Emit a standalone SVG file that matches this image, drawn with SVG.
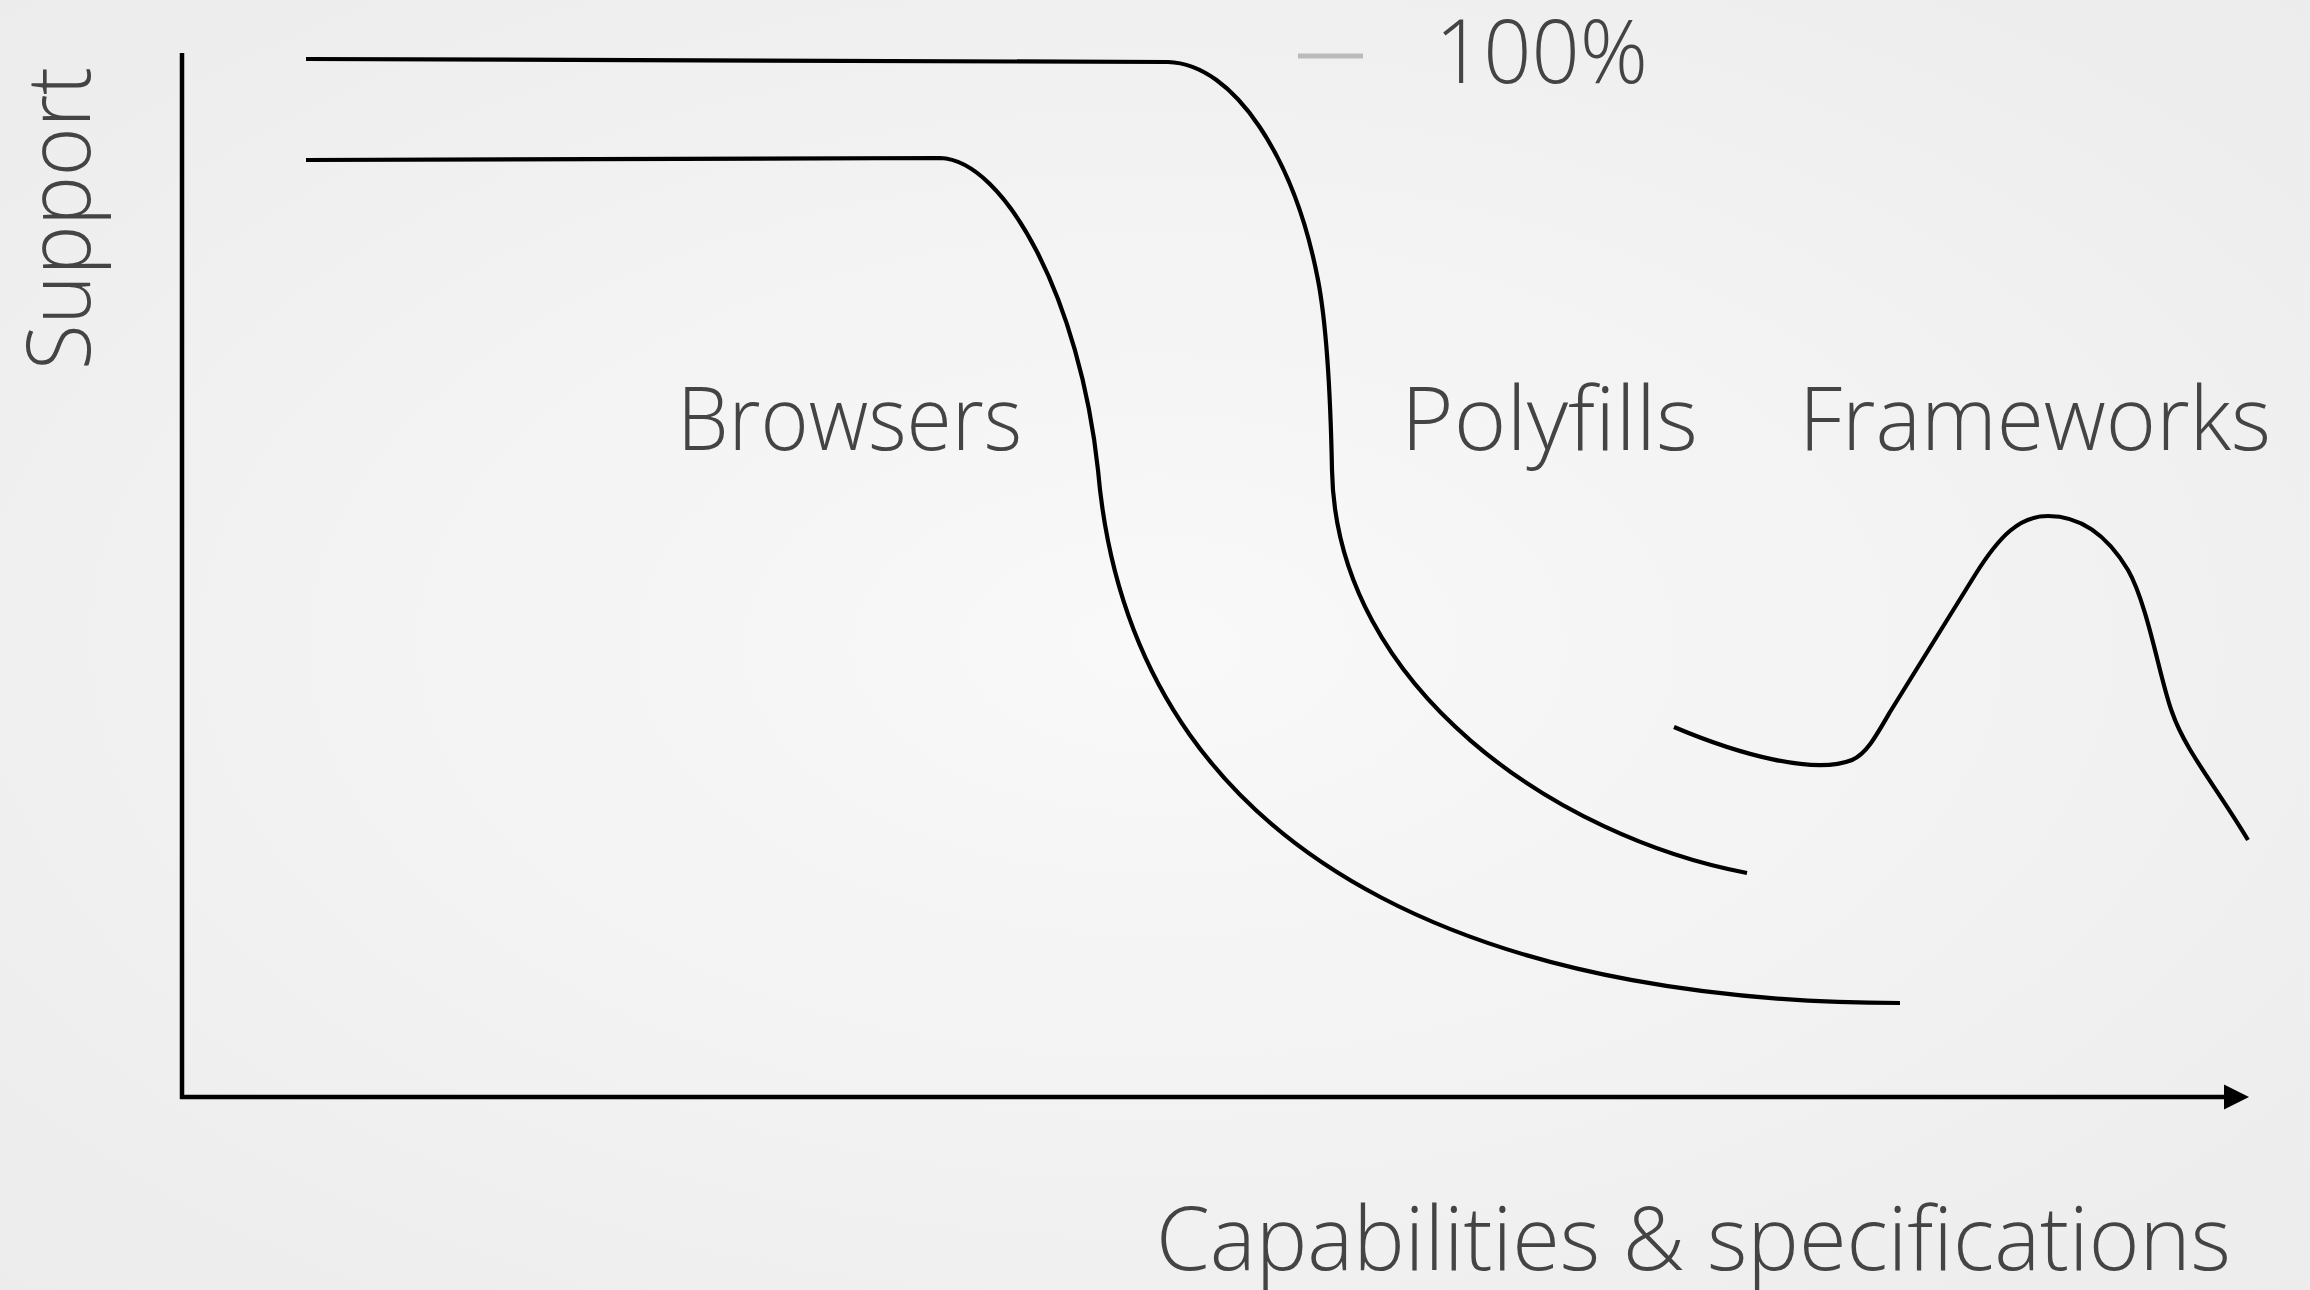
<svg xmlns="http://www.w3.org/2000/svg" width="2310" height="1290" viewBox="0 0 2310 1290">
  <defs>
    <radialGradient id="bg" cx="50%" cy="50%" r="70%">
      <stop offset="0" stop-color="#f9f9f9"/>
      <stop offset="1" stop-color="#ececec"/>
    </radialGradient>
    <marker id="arrow" markerUnits="userSpaceOnUse" markerWidth="26" markerHeight="26" refX="0" refY="13" orient="auto">
      <path d="M0,0.5 L25,13 L0,25.5 Z" fill="#000"/>
    </marker>
  </defs>
  <style>
    .lbl { font-family: "Open Sans", "Liberation Sans", sans-serif; font-weight: 300; fill: #444; font-size: 88px; }
    .curve { fill: none; stroke: #000; stroke-width: 4.2; stroke-linecap: butt; stroke-linejoin: round; }
    .axis { fill: none; stroke: #000; stroke-width: 4.5; }
  </style>
  <rect width="2310" height="1290" fill="url(#bg)"/>

  <g id="axes">
    <line class="axis" x1="182" y1="53" x2="182" y2="1099"/>
    <line class="axis" x1="180" y1="1097" x2="2224" y2="1097" marker-end="url(#arrow)"/>
  </g>

  <g id="axis-labels">
    <text class="lbl" transform="translate(90,370) rotate(-90)" textLength="303" lengthAdjust="spacingAndGlyphs">Support</text>
    <text class="lbl" x="1156" y="1270" textLength="1075" lengthAdjust="spacingAndGlyphs">Capabilities &amp; specifications</text>
  </g>

  <g id="legend-100">
    <line x1="1298" y1="56" x2="1363" y2="56" stroke="#bbb" stroke-width="5"/>
    <text class="lbl" x="1435" y="83" textLength="213" lengthAdjust="spacingAndGlyphs">100%</text>
  </g>

  <g id="curves">
    <path id="polyfills-curve" class="curve" d="M306,59 L1168,62 C1235,64 1295,160 1318,280 C1327.6,330 1331,420 1332,470 C1336,690 1560,838 1747,873"/>
    <path id="browsers-curve" class="curve" d="M306,160 L940,158 C1005,160 1080,300 1098,470 C1135,900 1550,1003 1900,1003"/>
    <path id="frameworks-curve" class="curve" d="M1674,727 C1740,755 1815,775 1852,760 C1866,754 1875,738 1890,712 L1975,575 C2000,535 2020,516 2048,516 C2085,516 2110,540 2128,570 C2148,605 2160,680 2172,712 C2185,750 2215,785 2248,840"/>
  </g>

  <g id="browsers">
    <text class="lbl" x="677" y="450" textLength="345" lengthAdjust="spacingAndGlyphs">Browsers</text>
  </g>
  <g id="polyfills">
    <text class="lbl" x="1401" y="450" textLength="297" lengthAdjust="spacingAndGlyphs">Polyfills</text>
  </g>
  <g id="frameworks">
    <text class="lbl" x="1799" y="450" textLength="472" lengthAdjust="spacingAndGlyphs">Frameworks</text>
  </g>
</svg>
